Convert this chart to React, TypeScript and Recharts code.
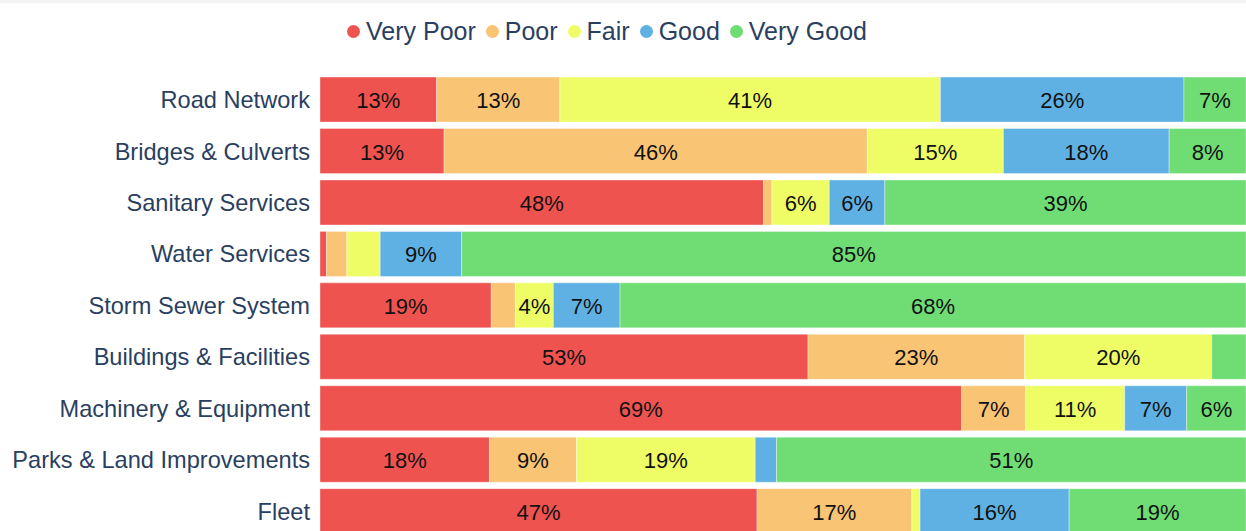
import { Bar, BarChart, LabelList, Legend, XAxis, YAxis } from 'recharts'

const categories = [
  'Road Network',
  'Bridges & Culverts',
  'Sanitary Services',
  'Water Services',
  'Storm Sewer System',
  'Buildings & Facilities',
  'Machinery & Equipment',
  'Parks & Land Improvements',
  'Fleet',
]

const veryPoor = [12.6, 13.4, 47.9, 0.7, 18.5, 52.7, 69.3, 18.3, 47.2]
const poor = [13.3, 45.7, 0.9, 2.2, 2.6, 23.4, 6.9, 9.4, 16.7]
const fair = [41.1, 14.7, 6.2, 3.6, 4.1, 20.2, 10.7, 19.3, 0.9]
const good = [26.3, 17.9, 6.0, 8.8, 7.2, 0, 6.7, 2.3, 16.1]
const veryGood = [6.7, 8.3, 39.0, 84.7, 67.6, 3.7, 6.4, 50.7, 19.1]

const series = [
  { key: 'veryPoor', name: 'Very Poor', color: '#ef5350', values: veryPoor },
  { key: 'poor', name: 'Poor', color: '#f9c474', values: poor },
  { key: 'fair', name: 'Fair', color: '#eefd66', values: fair },
  { key: 'good', name: 'Good', color: '#5fb1e3', values: good },
  { key: 'veryGood', name: 'Very Good', color: '#6fdd74', values: veryGood },
]

const data = categories.map((name, i) => {
  const row: Record<string, string | number> = { name }
  series.forEach((s) => {
    row[s.key] = s.values[i]
  })
  return row
})

const FONT = '"Liberation Sans", Arial, sans-serif'
const TEXT = '#2a3f5f'

function SegmentLabel(props: any) {
  const { x, y, width, height, value } = props
  if (typeof value !== 'number' || value < 4) return null
  return (
    <text
      x={x + width / 2}
      y={y + height / 2 + 1}
      textAnchor="middle"
      dominantBaseline="central"
      fontSize={22}
      fontFamily={FONT}
      fill="#111"
    >
      {Math.round(value)}%
    </text>
  )
}

function LegendRow() {
  return (
    <div style={{ display: 'flex', alignItems: 'center', height: 30, fontFamily: FONT, fontSize: 25, color: TEXT }}>
      {series.map((s) => (
        <div key={s.key} style={{ display: 'flex', alignItems: 'center', marginRight: 10 }}>
          <span
            style={{
              width: 13,
              height: 13,
              borderRadius: '50%',
              background: s.color,
              display: 'inline-block',
              marginRight: 6,
            }}
          />
          <span>{s.name}</span>
        </div>
      ))}
    </div>
  )
}

export default function App() {
  return (
    <div
      style={{
        position: 'fixed',
        left: 0,
        top: 0,
        width: 1246,
        height: 531,
        overflow: 'hidden',
        background: '#fff',
        borderTop: '3px solid #f3f3f3',
        boxSizing: 'border-box',
      }}
    >
      <BarChart
        width={1246}
        height={540}
        data={data}
        layout="vertical"
        barCategoryGap="6%"
        margin={{ top: 44, right: 0, bottom: 3, left: 0 }}
        style={{ marginTop: -3 }}
      >
        <XAxis type="number" domain={[0, 100]} hide />
        <YAxis
          type="category"
          dataKey="name"
          width={320}
          axisLine={false}
          tickLine={false}
          tickSize={0}
          tickMargin={10}
          interval={0}
          tick={{ fill: TEXT, fontSize: 23.6, fontFamily: FONT }}
        />
        <Legend
          verticalAlign="top"
          align="left"
          content={() => <LegendRow />}
          wrapperStyle={{ top: 16, left: 347, width: 'auto', height: 30 }}
        />
        {series.map((s) => (
          <Bar
            key={s.key}
            dataKey={s.key}
            name={s.name}
            stackId="a"
            fill={s.color}
            stroke="rgba(255,255,255,0.6)"
            strokeWidth={0.6}
            isAnimationActive={false}
          >
            <LabelList dataKey={s.key} content={SegmentLabel} />
          </Bar>
        ))}
      </BarChart>
    </div>
  )
}
